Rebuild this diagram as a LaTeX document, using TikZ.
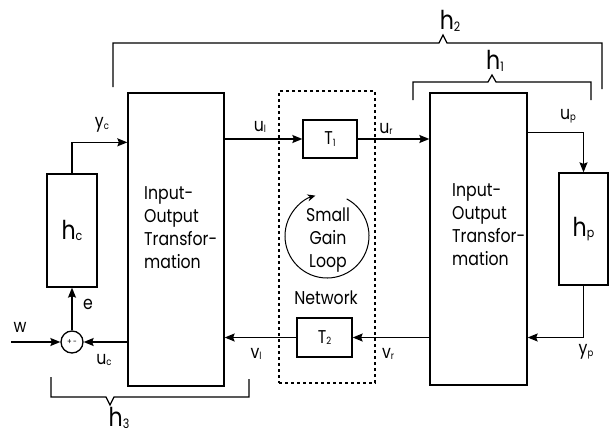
\documentclass[tikz,border=0pt]{standalone}
\usepackage{fontspec}
\setmainfont{Poppins}[FakeStretch=0.85]
\usetikzlibrary{arrows.meta,calc}
\newcommand\lowsub[1]{\raisebox{-0.15ex}{\fontsize{10}{10}\selectfont #1}}
\newcommand\bigsub[1]{\raisebox{-0.1ex}{\fontsize{13}{13}\selectfont #1}}
\tikzset{
  blk/.style={draw, line width=1.3pt, inner sep=0pt},
  netbox/.style={draw, dashed, line width=1.2pt, inner sep=0pt},
  wire/.style={line width=1.3pt},
  arr/.style={wire, -{Stealth[length=10pt,width=8pt,inset=1.5pt]}},
  brace/.style={line width=1.2pt},
  lbl/.style={inner sep=0pt, font=\fontsize{18.5}{20}\selectfont},
  hlbl/.style={inner sep=0pt, font=\fontsize{26}{28}\selectfont},
  body/.style={inner sep=0pt, align=left, font=\fontsize{18.5}{23.3}\selectfont},
}
\begin{document}
\begin{tikzpicture}[x=1pt,y=-1pt]
\useasboundingbox[fill=white] (0,0) rectangle (610,436);

% boxes
\node[netbox, minimum width=96pt, minimum height=292pt] (net) at (327,237) {};
\node[blk, minimum width=96pt, minimum height=293pt] (ioL) at (176,239.5) {};
\node[blk, minimum width=97pt, minimum height=292pt] (ioR) at (478.5,239) {};
\node[blk, minimum width=54pt, minimum height=38pt, font=\fontsize{18.5}{20}\selectfont] (T1) at (330,139) {T\lowsub{1}};
\node[blk, minimum width=55pt, minimum height=39pt, font=\fontsize{18.5}{20}\selectfont] (T2) at (324.5,337.5) {T\lowsub{2}};
\node[blk, minimum width=50pt, minimum height=113pt, font=\fontsize{26}{28}\selectfont] (hc) at (72,230.5) {h\bigsub{c}};
\node[blk, minimum width=49pt, minimum height=112pt, font=\fontsize{26}{28}\selectfont] (hp) at (583.5,229) {h\bigsub{p}};
\node[draw, circle, line width=1.3pt, minimum size=22pt, inner sep=0pt, font=\fontsize{8}{8}\selectfont] (sum) at (72,342) {+\,-};

% texts
\node[body, anchor=north west] (tL) at (144,186) {Input-\\Output\\Transfor-\\mation};
\node[body, anchor=north west] (tR) at (452,183) {Input-\\Output\\Transfor-\\mation};
\node[body, align=center] (sg) at (328,240) {Small\\Gain\\Loop};
\node[lbl] (nw) at (326,298) {Network};
\draw[line width=1pt, -{Stealth[length=8pt,width=7pt]}] (327,236) ++(-62:42) arc[start angle=-62, end angle=254, radius=42];

% coordinates
\path (ioL.north west) ++(0,50) coordinate (ycin);
\path (ioR.north east) ++(0,40) coordinate (upout);
\coordinate (win) at (11,342);

% wires
\draw[arr] (hc.north) |- (ycin);
\draw[arr] (T1.west -| ioL.east) -- (T1.west);
\draw[arr] (T1.east) -- (T1.east -| ioR.west);
\draw[arr] (upout) -| (hp.north);
\draw[arr] (hp.south) |- (ioR.east |- T2.east);
\draw[arr] (ioR.west |- T2.east) -- (T2.east);
\draw[arr] (T2.west) -- (T2.west -| ioL.east);
\draw[arr] (ioL.west |- sum.east) -- (sum.east);
\draw[arr] (win) -- (sum.west);
\draw[arr] (sum.north) -- (sum.north |- hc.south);

% wire labels
\node[lbl] (lyc) at (102,125) {y\lowsub{c}};
\node[lbl] (lul) at (260,127) {u\lowsub{l}};
\node[lbl] (lur) at (386,129) {u\lowsub{r}};
\node[lbl] (lup) at (568,116) {u\lowsub{p}};
\node[lbl] (le) at (88,304) {e};
\node[lbl] (lw) at (20,327) {w};
\node[lbl] (luc) at (104,360) {u\lowsub{c}};
\node[lbl] (lvl) at (256,354) {v\lowsub{l}};
\node[lbl] (lvr) at (388,354) {v\lowsub{r}};
\node[lbl] (lyp) at (586,352) {y\lowsub{p}};

% brackets
\draw[brace] (113,87) -- (113,43) -- (439,43) -- (443,35) -- (447,43) -- (602,43) -- (602,89);
\node[hlbl] (h2) at (450,21) {h\bigsub{2}};
\draw[brace] (413,100) -- (413,82) -- (488,82) -- (492,75) -- (496,82) -- (591,82) -- (591,100);
\node[hlbl] (h1) at (495,61) {h\bigsub{1}};
\draw[brace] (51,377) -- (51,397) -- (106,397) -- (110,405) -- (114,397) -- (249,397) -- (249,379);
\node[hlbl] (h3) at (119,418) {h\bigsub{3}};
\end{tikzpicture}
\end{document}
